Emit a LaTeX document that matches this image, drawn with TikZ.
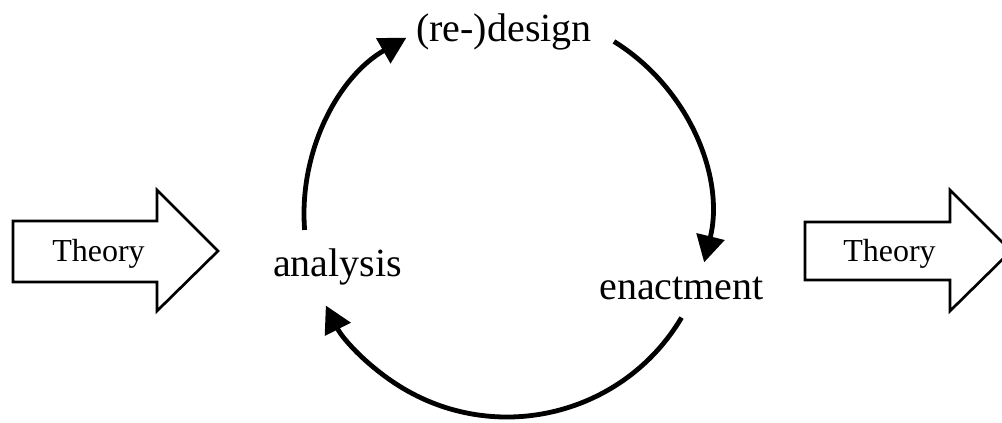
\documentclass[tikz,border=0pt]{standalone}
\usepackage{fontspec}
\setmainfont{Liberation Serif}
\usetikzlibrary{arrows.meta}
\begin{document}
\begin{tikzpicture}[x=0.75pt,y=0.75pt,
  cyclelabel/.style={inner sep=0pt,anchor=base,font=\fontsize{30}{36}\selectfont},
  theorylabel/.style={inner sep=0pt,anchor=base,font=\fontsize{24}{28}\selectfont},
  blockarrow/.style={draw=black,line width=2pt,fill=white,line join=miter},
  cyclearrow/.style={line width=3.6pt,-{Triangle[length=20pt,width=21pt]}}
]
\useasboundingbox (0,0) rectangle (1002,423);
\clip (0,0) rectangle (1002,423);
% block arrows
\draw[blockarrow] (13,202) -- (157,202) -- (157,233) -- (218,172) -- (157,112) -- (157,141) -- (13,141) -- cycle;
\draw[blockarrow] (805,201) -- (950,201) -- (950,233) -- (1011,172) -- (950,112) -- (950,143) -- (805,143) -- cycle;
\node[theorylabel] (theoryL) at (98.5,161) {Theory};
\node[theorylabel] (theoryR) at (889.5,161) {Theory};
% cycle labels
\node[cyclelabel] (design) at (504,381) {(re-)design};
\node[cyclelabel] (analysis) at (337.5,146) {analysis};
\node[cyclelabel] (enact) at (681.5,123) {enactment};
\coordinate (c) at (507,209);
\draw[cyclearrow] (c) ++(184.5:152.25pt) arc[start angle=184.5,end angle=119.7,radius=152.25pt];
\draw[cyclearrow] (c) ++(58.2:152.25pt) arc[start angle=58.2,end angle=-13.8,radius=152.25pt];
\draw[cyclearrow] (c) ++(-30.7:152.25pt) arc[start angle=-30.7,end angle=-153.2,radius=152.25pt];
\end{tikzpicture}
\end{document}
